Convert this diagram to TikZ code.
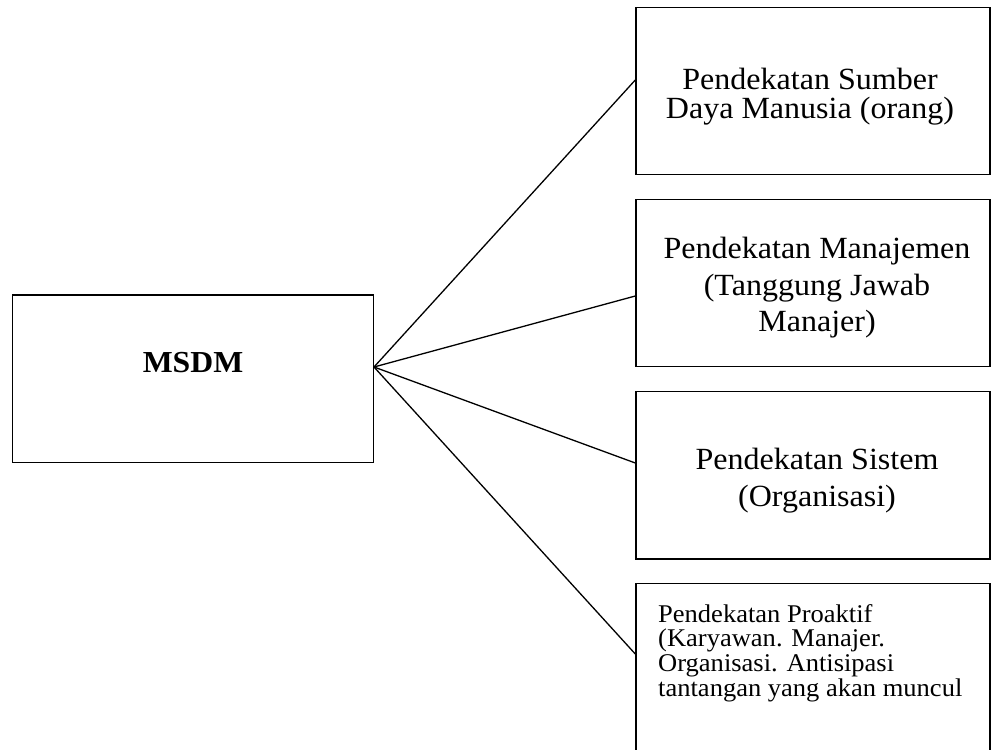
\documentclass[tikz,border=0pt]{standalone}
\usepackage{fontspec}
\setmainfont{Liberation Serif}[FakeStretch=1.04]
\begin{document}
\begin{tikzpicture}[x=1bp,y=-1bp,
  box/.style={draw=black, line width=1.4bp, inner sep=0pt, rectangle},
  lbl/.style={inner sep=0pt, anchor=base, align=center},
  link/.style={draw=black, line width=1.3bp}]
\useasboundingbox (0,0) rectangle (991,750);
\clip (0,0) rectangle (991,750);
\node[box, minimum width=360.6bp, minimum height=167.7bp] (msdm) at (193,378.8) {};
\node[box, minimum width=354bp, minimum height=167bp] (b1) at (813,90.8) {};
\node[box, minimum width=354bp, minimum height=167.4bp] (b2) at (813,283) {};
\node[box, minimum width=354bp, minimum height=167.3bp] (b3) at (813,475.3) {};
\node[box, minimum width=354bp, minimum height=190bp, anchor=north] (b4) at (813,582.5) {};
\coordinate (hub) at ([yshift=11.8bp]msdm.east);
\node[lbl, font=\bfseries\fontsize{30.5bp}{36bp}\selectfont] (tm) at (193,372.7) {MSDM};
\node[lbl, font=\fontsize{30.8bp}{28.3bp}\selectfont] (t1) at (810,118.3) {Pendekatan Sumber\\Daya Manusia (orang)};
\node[lbl, font=\fontsize{30.8bp}{36.7bp}\selectfont] (t2) at (817,331.7) {Pendekatan Manajemen\\(Tanggung Jawab\\Manajer)};
\node[lbl, font=\fontsize{30.8bp}{36.7bp}\selectfont] (t3) at (817,506) {Pendekatan Sistem\\(Organisasi)};
\node[lbl, anchor=base west, align=left, font=\fontsize{25.5bp}{24.6bp}\selectfont] (t4) at (658,696) {Pendekatan Proaktif\\(Karyawan. Manajer.\\Organisasi. Antisipasi\\tantangan yang akan muncul};
\draw[link] (hub) -- ([yshift=10.8bp]b1.west);
\draw[link] (hub) -- ([yshift=-13bp]b2.west);
\draw[link] (hub) -- ([yshift=12.3bp]b3.west);
\draw[link] (hub) -- ([yshift=-71.5bp]b4.north west);
\end{tikzpicture}
\end{document}
